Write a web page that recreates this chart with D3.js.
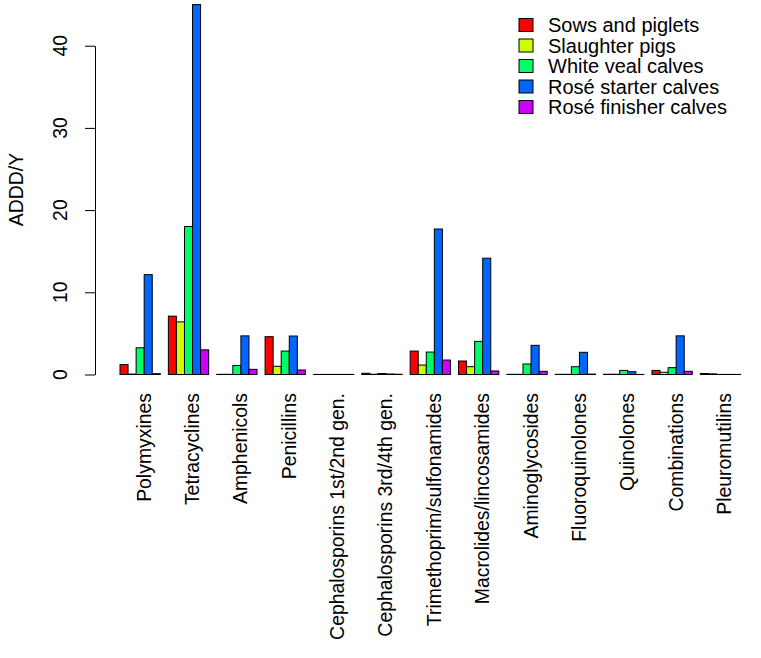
<!DOCTYPE html>
<html>
<head>
<meta charset="utf-8">
<script src="https://cdn.jsdelivr.net/npm/d3@7"></script>
<style>
  body { margin: 0; background: #fff; }
  svg { display: block; font-family: "Liberation Sans", Arial, sans-serif; }
</style>
</head>
<body>
<svg id="chart" width="761" height="658"></svg>
<script>
const categories = ["Polymyxines", "Tetracyclines", "Amphenicols", "Penicillins",
  "Cephalosporins 1st/2nd gen.", "Cephalosporins 3rd/4th gen.", "Trimethoprim/sulfonamides",
  "Macrolides/lincosamides", "Aminoglycosides", "Fluoroquinolones", "Quinolones",
  "Combinations", "Pleuromutilins"];
const seriesNames = ["Sows and piglets", "Slaughter pigs", "White veal calves",
  "Rosé starter calves", "Rosé finisher calves"];
const seriesColors = ["#FF0000", "#CCFF00", "#00FF66", "#0066FF", "#CC00FF"];
const sowsPiglets     = [1.2, 7.1, 0.02, 4.6, 0.01, 0.15, 2.85, 1.64, 0.02, 0.02, 0.03, 0.5, 0.12];
const slaughterPigs   = [0.05, 6.4, 0.02, 1.0, 0.01, 0.03, 1.15, 0.95, 0.02, 0.02, 0.03, 0.27, 0.08];
const whiteVeal       = [3.25, 18.0, 1.1, 2.85, 0.01, 0.12, 2.73, 4.03, 1.28, 0.95, 0.5, 0.83, 0.01];
const roseStarter     = [12.15, 45.0, 4.7, 4.68, 0.01, 0.06, 17.7, 14.15, 3.55, 2.7, 0.34, 4.7, 0.01];
const roseFinisher    = [0.1, 3.0, 0.63, 0.55, 0.01, 0.03, 1.76, 0.43, 0.39, 0.05, 0.01, 0.39, 0.01];
const yTicks = [0, 10, 20, 30, 40];
const yLabel = "ADDD/Y";

const seriesValues = [sowsPiglets, slaughterPigs, whiteVeal, roseStarter, roseFinisher];

const svg = d3.select("#chart");
const fs = 19.4;
const legendFs = 20;

// group scale: each group = 5 bars + 1 space (space before)
const unit = 8.06;
const x0Start = 111.94;
const x0 = d3.scaleBand()
  .domain(categories)
  .range([x0Start, x0Start + 79 * unit])
  .paddingInner(1 / 6)
  .paddingOuter(1 / 6);
const x1 = d3.scaleBand()
  .domain(seriesNames)
  .range([0, x0.bandwidth()])
  .padding(0);
const y = d3.scaleLinear().domain([0, 40]).range([374.5, 45.7]);

const groups = svg.append("g").selectAll("g")
  .data(categories)
  .join("g")
  .attr("transform", d => `translate(${x0(d)},0)`);

groups.selectAll("rect")
  .data((d, i) => seriesNames.map((s, j) => ({ s, j, v: seriesValues[j][i] })))
  .join("rect")
  .attr("x", d => x1(d.s))
  .attr("width", x1.bandwidth())
  .attr("y", d => y(d.v))
  .attr("height", d => y(0) - y(d.v))
  .attr("fill", d => seriesColors[d.j])
  .attr("stroke", "#000")
  .attr("stroke-width", 1);

// y axis
const yAxis = d3.axisLeft(y).tickValues(yTicks).tickSize(10).tickSizeOuter(0).tickFormat("");
const ax = svg.append("g").attr("transform", "translate(95,0)").call(yAxis);
ax.selectAll("path, line").attr("stroke", "#000").attr("stroke-width", 1);

svg.append("g").selectAll("text")
  .data(yTicks)
  .join("text")
  .attr("transform", d => `translate(67,${y(d)}) rotate(-90)`)
  .attr("text-anchor", "middle")
  .attr("font-size", fs)
  .attr("fill", "#000")
  .text(d => d);

svg.append("text")
  .attr("transform", `translate(23,${y(22.5)}) rotate(-90)`)
  .attr("text-anchor", "middle")
  .attr("font-size", fs)
  .attr("fill", "#000")
  .text(yLabel);

// category labels
svg.append("g").selectAll("text")
  .data(categories)
  .join("text")
  .attr("transform", d => `translate(${x0(d) + x0.bandwidth() / 2 + 3.5},393) rotate(-90)`)
  .attr("text-anchor", "end")
  .attr("dominant-baseline", "central")
  .attr("font-size", fs)
  .attr("fill", "#000")
  .text(d => d);

// legend
const legendY = d3.scalePoint().domain(seriesNames).range([25, 107]);
const lg = svg.append("g").selectAll("g")
  .data(seriesNames)
  .join("g")
  .attr("transform", d => `translate(519,${legendY(d)})`);
lg.append("rect")
  .attr("x", 0).attr("y", -6.5).attr("width", 14).attr("height", 13)
  .attr("fill", (d, i) => seriesColors[i])
  .attr("stroke", "#000");
lg.append("text")
  .attr("x", 29)
  .attr("dominant-baseline", "central")
  .attr("font-size", legendFs)
  .attr("fill", "#000")
  .text(d => d);
</script>
</body>
</html>
